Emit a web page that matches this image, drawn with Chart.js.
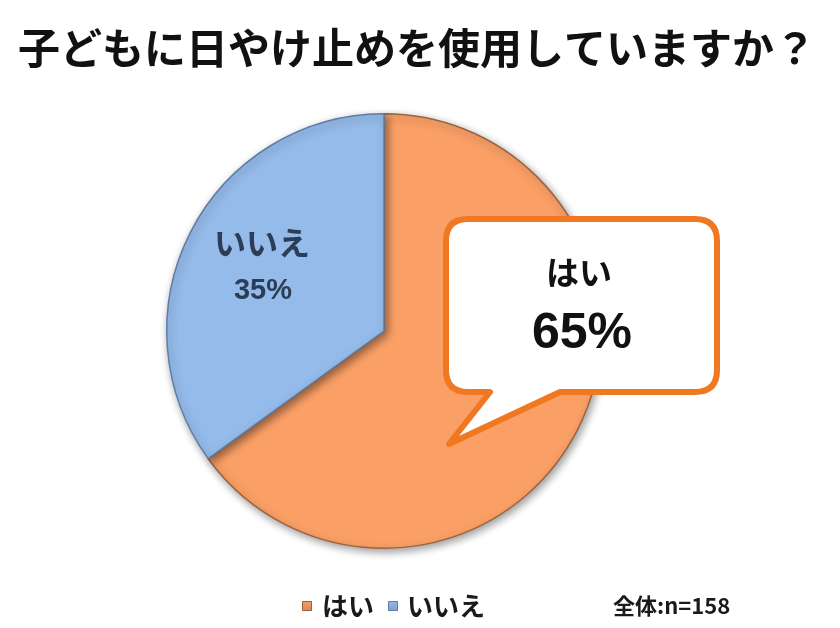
<!DOCTYPE html>
<html>
<head>
<meta charset="utf-8">
<script src="https://cdn.jsdelivr.net/npm/chart.js@4/dist/chart.umd.min.js"></script>
<style>
  html, body { margin: 0; padding: 0; background: #ffffff; }
  #grafica { display: block; }
</style>
</head>
<body>
<canvas id="grafica" width="840" height="628"></canvas>
<script>
// Datos de la gráfica
var titulo = '子どもに日やけ止めを使用していますか？';
var categorias = ['はい', 'いいえ'];
var porcentajes = [65, 35];
var coloresBase = ['#FA9F66', '#95BBEA'];
var coloresBorde = ['#9A6440', '#5F7DA5'];
var totalN = 158;

var fuenteJP = "'Noto Sans CJK JP', 'Noto Sans', sans-serif";
var fuenteNum = "'Liberation Sans', Arial, sans-serif";

// Oscurecer un color hex
function oscurecer(hex, f) {
    var r = parseInt(hex.substr(1, 2), 16), g = parseInt(hex.substr(3, 2), 16), b = parseInt(hex.substr(5, 2), 16);
    return 'rgb(' + Math.round(r * f) + ',' + Math.round(g * f) + ',' + Math.round(b * f) + ')';
}

// Relleno con degradado radial para dar algo de volumen
function rellenoSector(context) {
    var chart = context.chart;
    var base = coloresBase[context.dataIndex];
    var meta = chart.getDatasetMeta(0);
    var arc = meta.data[context.dataIndex];
    if (!arc || !arc.outerRadius) {
        return base;
    }
    var g = chart.ctx.createRadialGradient(arc.x, arc.y, 0, arc.x, arc.y, arc.outerRadius);
    g.addColorStop(0, base);
    g.addColorStop(0.88, base);
    g.addColorStop(1, oscurecer(base, 0.9));
    return g;
}

// Sombra suave bajo el círculo
var sombraPlugin = {
    id: 'sombra',
    beforeDatasetsDraw: function (chart) {
        var ctx = chart.ctx;
        ctx.save();
        ctx.shadowColor = 'rgba(0,0,0,0.4)';
        ctx.shadowBlur = 8;
        ctx.shadowOffsetX = 2;
        ctx.shadowOffsetY = 3;
    },
    afterDatasetsDraw: function (chart) {
        chart.ctx.restore();
    }
};

// Textos, globo y leyenda
var textosPlugin = {
    id: 'textos',
    afterDraw: function (chart) {
        var ctx = chart.ctx;
        ctx.save();

        // Título
        ctx.fillStyle = '#111111';
        ctx.textAlign = 'center';
        ctx.textBaseline = 'middle';
        ctx.font = 'bold 42px ' + fuenteJP;
        ctx.fillText(titulo, 417, 48);

        // Etiqueta dentro del sector azul
        ctx.fillStyle = '#2C3D55';
        ctx.font = 'bold 32px ' + fuenteJP;
        ctx.fillText(categorias[1], 262, 243);
        ctx.font = 'bold 29px ' + fuenteNum;
        ctx.fillText(porcentajes[1] + '%', 263, 291);

        // Globo de texto para "はい"
        var x0 = 446, y0 = 219, x1 = 717, y1 = 392, rad = 22;
        ctx.beginPath();
        ctx.moveTo(x0 + rad, y0);
        ctx.lineTo(x1 - rad, y0);
        ctx.quadraticCurveTo(x1, y0, x1, y0 + rad);
        ctx.lineTo(x1, y1 - rad);
        ctx.quadraticCurveTo(x1, y1, x1 - rad, y1);
        ctx.lineTo(560, y1);
        ctx.lineTo(449, 444);
        ctx.lineTo(490, y1);
        ctx.lineTo(x0 + rad, y1);
        ctx.quadraticCurveTo(x0, y1, x0, y1 - rad);
        ctx.lineTo(x0, y0 + rad);
        ctx.quadraticCurveTo(x0, y0, x0 + rad, y0);
        ctx.closePath();
        ctx.fillStyle = '#ffffff';
        ctx.fill();
        ctx.lineWidth = 6;
        ctx.lineJoin = 'round';
        ctx.strokeStyle = '#F07820';
        ctx.stroke();

        ctx.fillStyle = '#111111';
        ctx.font = 'bold 33px ' + fuenteJP;
        ctx.fillText(categorias[0], 579, 272);
        ctx.font = 'bold 50px ' + fuenteNum;
        ctx.fillText(porcentajes[0] + '%', 582, 334);

        // Leyenda
        var items = [
            { cuadro: 302, texto: 322 },
            { cuadro: 388, texto: 407 }
        ];
        ctx.textAlign = 'left';
        for (var i = 0; i < categorias.length; i++) {
            var gx = ctx.createLinearGradient(0, 601, 0, 611);
            gx.addColorStop(0, coloresBase[i]);
            gx.addColorStop(1, oscurecer(coloresBase[i], 0.85));
            ctx.fillStyle = gx;
            ctx.fillRect(items[i].cuadro, 601, 10, 10);
            ctx.lineWidth = 1;
            ctx.strokeStyle = coloresBorde[i];
            ctx.strokeRect(items[i].cuadro + 0.5, 601.5, 9, 9);
            ctx.fillStyle = '#1a1a1a';
            ctx.font = 'bold 26px ' + fuenteJP;
            ctx.fillText(categorias[i], items[i].texto, 606);
        }

        // Total de respuestas
        ctx.font = 'bold 22px ' + fuenteJP;
        ctx.fillText('全体:n=' + totalN, 613, 606);

        ctx.restore();
    }
};

var ctx = document.getElementById('grafica').getContext('2d');

var grafica = new Chart(ctx, {
    type: 'pie',
    data: {
        labels: categorias,
        datasets: [{
            data: porcentajes,
            backgroundColor: rellenoSector,
            borderColor: coloresBorde,
            borderWidth: 1.5
        }]
    },
    options: {
        responsive: false,
        animation: false,
        layout: {
            padding: { left: 166, top: 113, right: 238, bottom: 79 }
        },
        plugins: {
            legend: { display: false },
            title: { display: false },
            tooltip: { enabled: false }
        }
    },
    plugins: [sombraPlugin, textosPlugin]
});
</script>
</body>
</html>
